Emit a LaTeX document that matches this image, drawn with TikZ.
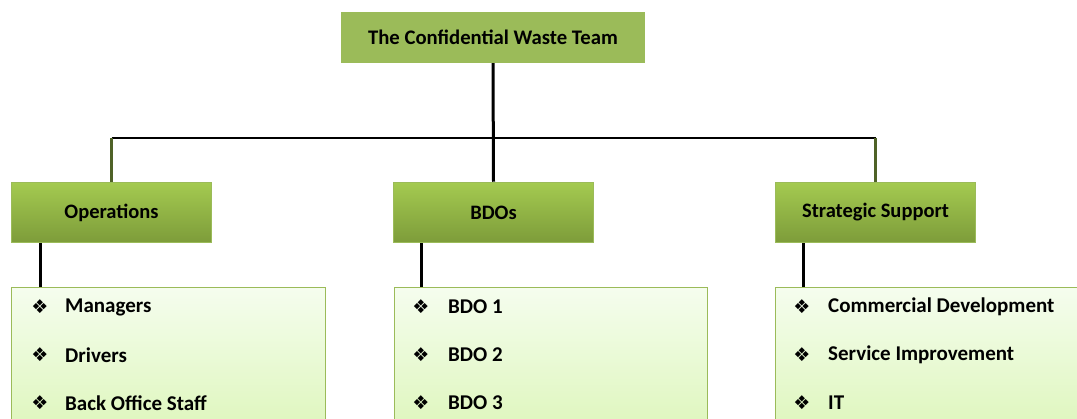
\documentclass[tikz,border=0pt]{standalone}
\usepackage{fontspec}
\setmainfont{Carlito}
\newfontfamily\symfont{DejaVu Sans}
\definecolor{olivegreen}{HTML}{9BBB59}
\definecolor{subtop}{HTML}{A4CA50}
\definecolor{subbot}{HTML}{7D9C3A}
\definecolor{listtop}{HTML}{F5FDEE}
\definecolor{listbot}{HTML}{DDF6BA}
\definecolor{darkolive}{HTML}{4F6228}
\tikzset{
  titlebox/.style={fill=olivegreen, draw=none, minimum width=304pt, minimum height=51pt,
    font=\fontsize{20.7}{22}\selectfont\bfseries, inner sep=0pt},
  subbox/.style={top color=subtop, bottom color=subbot, draw=olivegreen, line width=1.5pt,
    minimum width=200pt, minimum height=60pt, font=\fontsize{20.5}{22}\selectfont\bfseries, inner sep=0pt},
  listbox/.style={top color=listtop, bottom color=listbot, draw=olivegreen, line width=1.2pt,
    anchor=north west, inner sep=0pt},
  item/.style={anchor=west, font=\fontsize{21}{22}\selectfont\bfseries, inner sep=0pt},
  bullet/.style={font=\symfont\fontsize{19}{20}\selectfont, inner sep=0pt},
  blackline/.style={draw=black, line width=3pt},
  hline/.style={draw=black, line width=1.5pt},
  oliveline/.style={draw=darkolive, line width=3pt},
}
\begin{document}
\begin{tikzpicture}[x=1pt,y=-1pt]
\useasboundingbox (0,0) rectangle (1077,419);
\clip (0,0) rectangle (1077,419);
\node[titlebox] (title) at (493,37.5) {The Confidential Waste Team};
\node[subbox] (ops) at (111.5,212.5) {Operations};
\node[subbox] (bdo) at (493.5,212.5) {BDOs};
\node[subbox] (strat) at (875.5,212.5) {Strategic Support};
\node[listbox, minimum width=314pt, minimum height=150pt] (opslist) at (11,287) {};
\node[listbox, minimum width=313pt, minimum height=150pt] (bdolist) at (394,287) {};
\node[listbox, minimum width=320pt, minimum height=150pt] (stratlist) at (775,287) {};
% connectors
\coordinate (hl) at (111.5,138);
\coordinate (hr) at (875.5,138);
\draw[hline] (hl) -- (hr);
\draw[oliveline] (hl) -- (ops.north);
\draw[oliveline] (hr) -- (strat.north);
\draw[blackline] (title.south) -- (bdo.north);
\draw[blackline] ([xshift=30pt]ops.south west) -- ([xshift=30pt]ops.south west |- opslist.north);
\draw[blackline] ([xshift=29pt]bdo.south west) -- ([xshift=29pt]bdo.south west |- bdolist.north);
\draw[blackline] ([xshift=29pt]strat.south west) -- ([xshift=29pt]strat.south west |- stratlist.north);
% items
\foreach \n/\t [count=\i] in {oa/Managers, ob/Drivers, oc/Back Office Staff}{
  \node[bullet] (\n b) at (40,{307+48*(\i-1)}) {❖};
  \node[item] (\n) at (65,{307+48*(\i-1)}) {\t};
}
\foreach \n/\t [count=\i] in {ba/BDO 1, bb/BDO 2, bc/BDO 3}{
  \node[bullet] (\n b) at (421,{307+48*(\i-1)}) {❖};
  \node[item] (\n) at (448,{307+48*(\i-1)}) {\t};
}
\foreach \n/\t [count=\i] in {sa/Commercial Development, sb/Service Improvement, sc/IT}{
  \node[bullet] (\n b) at (802,{307+48*(\i-1)}) {❖};
  \node[item] (\n) at (828,{307+48*(\i-1)}) {\t};
}
\end{tikzpicture}
\end{document}
